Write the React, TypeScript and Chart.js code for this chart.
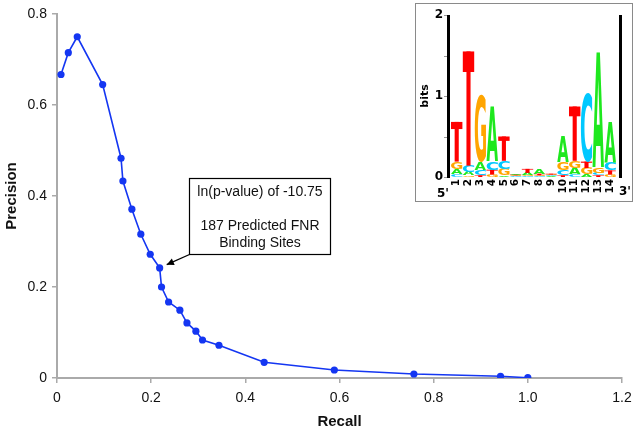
import React, { useEffect, useRef } from "react";
import { Chart, registerables } from "chart.js";

Chart.register(...registerables);

// ---- main curve data ----
const recall = [0.0085, 0.024, 0.043, 0.097, 0.136, 0.140, 0.159, 0.178, 0.198, 0.218, 0.222, 0.237, 0.261, 0.276, 0.295, 0.309, 0.344, 0.440, 0.589, 0.758, 0.942, 1.0];
const precision = [0.667, 0.715, 0.750, 0.645, 0.483, 0.433, 0.371, 0.316, 0.272, 0.242, 0.200, 0.167, 0.149, 0.121, 0.103, 0.0835, 0.072, 0.0345, 0.0176, 0.0088, 0.0037, 0.0007];

const xTicksMax = 1.2;
const yTicksMax = 0.8;

// ---- annotation (data coordinates) ----
const annotLines = ["ln(p-value) of -10.75", "", "187 Predicted FNR", "Binding Sites"];
const annotBox = { x0: 0.2805, x1: 0.58, y0: 0.2725, y1: 0.44 };
const annotTip = { x: 0.233, y: 0.249 };

// ---- sequence logo data (bits per letter, positions 1..14) ----
const logoPositions = ["1", "2", "3", "4", "5", "6", "7", "8", "9", "10", "11", "12", "13", "14"];
const logoA = [0.07, 0.04, 0.10, 0.68, 0.02, 0.02, 0.03, 0.06, 0.01, 0.32, 0.08, 0.03, 1.44, 0.50];
const logoC = [0.03, 0.08, 0.07, 0.10, 0.10, 0.01, 0.01, 0.01, 0.01, 0.06, 0.03, 0.86, 0.03, 0.10];
const logoG = [0.09, 0.02, 0.84, 0.03, 0.08, 0.01, 0.01, 0.01, 0.01, 0.10, 0.09, 0.08, 0.06, 0.03];
const logoT = [0.49, 1.41, 0.02, 0.06, 0.30, 0.01, 0.05, 0.02, 0.01, 0.02, 0.67, 0.08, 0.02, 0.05];
const logoColors: Record<string, string> = { A: "#1ee81e", C: "#00c8ff", G: "#ffa500", T: "#ff0000" };

function drawLetter(ctx: CanvasRenderingContext2D, ch: string, x: number, yBottom: number, w: number, h: number, color: string) {
  if (h < 0.4) return;
  ctx.save();
  ctx.fillStyle = color;
  if (ch === "T") {
    const barH = Math.max(0.5, h * 0.18);
    const stemW = w * 0.36;
    ctx.fillRect(x, yBottom - h, w, barH);
    ctx.fillRect(x + (w - stemW) / 2, yBottom - h, stemW, h);
    ctx.restore();
    return;
  }
  ctx.font = 'bold 100px "DejaVu Sans"';
  ctx.textAlign = "left";
  ctx.textBaseline = "alphabetic";
  const m = ctx.measureText(ch);
  const gw = m.actualBoundingBoxLeft + m.actualBoundingBoxRight;
  const gh = m.actualBoundingBoxAscent + m.actualBoundingBoxDescent;
  ctx.translate(x, yBottom);
  ctx.scale(w / gw, h / gh);
  ctx.fillText(ch, m.actualBoundingBoxLeft, -m.actualBoundingBoxDescent);
  ctx.restore();
}

const insetPlugin = {
  id: "insetLogo",
  afterDraw(chart: any) {
    const ctx: CanvasRenderingContext2D = chart.ctx;
    ctx.save();
    // frame
    ctx.fillStyle = "#ffffff";
    ctx.fillRect(415, 3, 218, 199);
    ctx.strokeStyle = "#8a8a8a";
    ctx.lineWidth = 1;
    ctx.strokeRect(415.5, 3.5, 217, 198);

    const bottom = 177;
    const top = 15;
    const bitPx = (bottom - top) / 2;
    const firstCenter = 456.7;
    const step = 11.8;
    const letterW = 11.4;

    // columns
    for (let i = 0; i < logoPositions.length; i++) {
      const stack = [
        { l: "A", v: logoA[i] },
        { l: "C", v: logoC[i] },
        { l: "G", v: logoG[i] },
        { l: "T", v: logoT[i] },
      ].sort((a, b) => a.v - b.v);
      let y = bottom;
      const cx = firstCenter + i * step;
      for (const s of stack) {
        const h = s.v * bitPx;
        drawLetter(ctx, s.l, cx - letterW / 2, y, letterW, h, logoColors[s.l]);
        y -= h;
      }
      // position number (rotated)
      ctx.save();
      ctx.translate(cx, bottom + 2);
      ctx.rotate(-Math.PI / 2);
      ctx.fillStyle = "#000";
      ctx.font = 'bold 10.5px "DejaVu Sans"';
      ctx.textAlign = "right";
      ctx.textBaseline = "middle";
      ctx.fillText(logoPositions[i], 0, 0);
      ctx.restore();
    }

    // axes bars
    ctx.fillStyle = "#000";
    ctx.fillRect(447, top, 3, bottom - top + 1);
    ctx.fillRect(619, top, 3, bottom - top + 1);
    // small ticks
    ctx.strokeStyle = "#999";
    ctx.lineWidth = 1;
    for (let b = 0; b <= 2; b += 0.5) {
      const ty = Math.round(bottom - b * bitPx) + 0.5;
      ctx.beginPath();
      ctx.moveTo(444, ty);
      ctx.lineTo(447, ty);
      ctx.stroke();
    }
    // axis labels
    ctx.fillStyle = "#000";
    ctx.font = 'bold 12px "DejaVu Sans"';
    ctx.textAlign = "right";
    ctx.textBaseline = "middle";
    ["0", "1", "2"].forEach((t, k) => ctx.fillText(t, 443, bottom - k * bitPx));
    ctx.textAlign = "left";
    ctx.fillText("5'", 437, 194);
    ctx.fillText("3'", 619, 192);
    ctx.save();
    ctx.translate(425, 96);
    ctx.rotate(-Math.PI / 2);
    ctx.textAlign = "center";
    ctx.font = 'bold 11px "DejaVu Sans"';
    ctx.fillText("bits", 0, 0);
    ctx.restore();
    ctx.restore();
  },
};

const annotationPlugin = {
  id: "annotBox",
  afterDatasetsDraw(chart: any) {
    const ctx: CanvasRenderingContext2D = chart.ctx;
    const xs = chart.scales.x;
    const ys = chart.scales.y;
    const l = Math.round(xs.getPixelForValue(annotBox.x0)) + 0.5;
    const r = Math.round(xs.getPixelForValue(annotBox.x1)) + 0.5;
    const t = Math.round(ys.getPixelForValue(annotBox.y1)) + 0.5;
    const b = Math.round(ys.getPixelForValue(annotBox.y0)) + 0.5;
    ctx.save();
    ctx.fillStyle = "#fff";
    ctx.fillRect(l, t, r - l, b - t);
    ctx.strokeStyle = "#000";
    ctx.lineWidth = 1.2;
    ctx.strokeRect(l, t, r - l, b - t);
    ctx.fillStyle = "#111";
    ctx.font = '14px "Liberation Sans", Arial, sans-serif';
    ctx.textAlign = "center";
    ctx.textBaseline = "middle";
    const cx = (l + r) / 2;
    annotLines.forEach((line, i) => ctx.fillText(line, cx, t + 14 + i * 17));
    // arrow
    const tx = xs.getPixelForValue(annotTip.x);
    const ty = ys.getPixelForValue(annotTip.y);
    ctx.strokeStyle = "#000";
    ctx.lineWidth = 1.3;
    ctx.beginPath();
    ctx.moveTo(l, b);
    ctx.lineTo(tx, ty);
    ctx.stroke();
    const ang = Math.atan2(ty - b, tx - l);
    const al = 8;
    const aw = 0.45;
    ctx.fillStyle = "#000";
    ctx.beginPath();
    ctx.moveTo(tx, ty);
    ctx.lineTo(tx - al * Math.cos(ang - aw), ty - al * Math.sin(ang - aw));
    ctx.lineTo(tx - al * Math.cos(ang + aw), ty - al * Math.sin(ang + aw));
    ctx.closePath();
    ctx.fill();
    ctx.restore();
  },
};

export default function App() {
  const ref = useRef<HTMLCanvasElement | null>(null);
  useEffect(() => {
    if (!ref.current) return;
    const tickFont = { family: '"Liberation Sans", Arial, sans-serif', size: 14 };
    const titleFont = { family: '"Liberation Sans", Arial, sans-serif', size: 15, weight: "bold" as const };
    const chart = new Chart(ref.current, {
      type: "scatter",
      data: {
        datasets: [
          {
            data: recall.map((x, i) => ({ x, y: precision[i] })),
            showLine: true,
            borderColor: "#1436f2",
            backgroundColor: "#1436f2",
            borderWidth: 1.6,
            pointRadius: 3.6,
            pointBorderWidth: 0,
            tension: 0,
          },
        ],
      },
      options: {
        responsive: false,
        animation: false,
        layout: { padding: { left: 3, top: 14, right: 20, bottom: 0 } },
        plugins: { legend: { display: false }, tooltip: { enabled: false } },
        scales: {
          x: {
            type: "linear",
            min: 0,
            max: xTicksMax,
            ticks: { stepSize: 0.2, font: tickFont, color: "#111", padding: 7, maxRotation: 0 },
            grid: { drawOnChartArea: false, drawTicks: true, tickLength: 5, color: "#aaa", lineWidth: 1.5 },
            border: { color: "#aaa", width: 2 },
            title: { display: true, text: "Recall", font: titleFont, color: "#111", padding: { top: 0, bottom: 4 } },
            afterFit: (s: any) => { s.height = 57; },
          },
          y: {
            type: "linear",
            min: 0,
            max: yTicksMax,
            ticks: { stepSize: 0.2, font: tickFont, color: "#111", padding: 5 },
            grid: { drawOnChartArea: false, drawTicks: true, tickLength: 5, color: "#aaa", lineWidth: 1.5 },
            border: { color: "#aaa", width: 2 },
            title: { display: true, text: "Precision", font: titleFont, color: "#111", padding: { top: 0, bottom: 0 } },
            afterFit: (s: any) => { s.width = 54; },
          },
        },
      },
      plugins: [annotationPlugin, insetPlugin],
    });
    return () => chart.destroy();
  }, []);
  return (
    <div style={{ position: "absolute", left: 0, top: 0, width: 642, height: 435, background: "#fff" }}>
      <canvas ref={ref} width={642} height={435} />
    </div>
  );
}
